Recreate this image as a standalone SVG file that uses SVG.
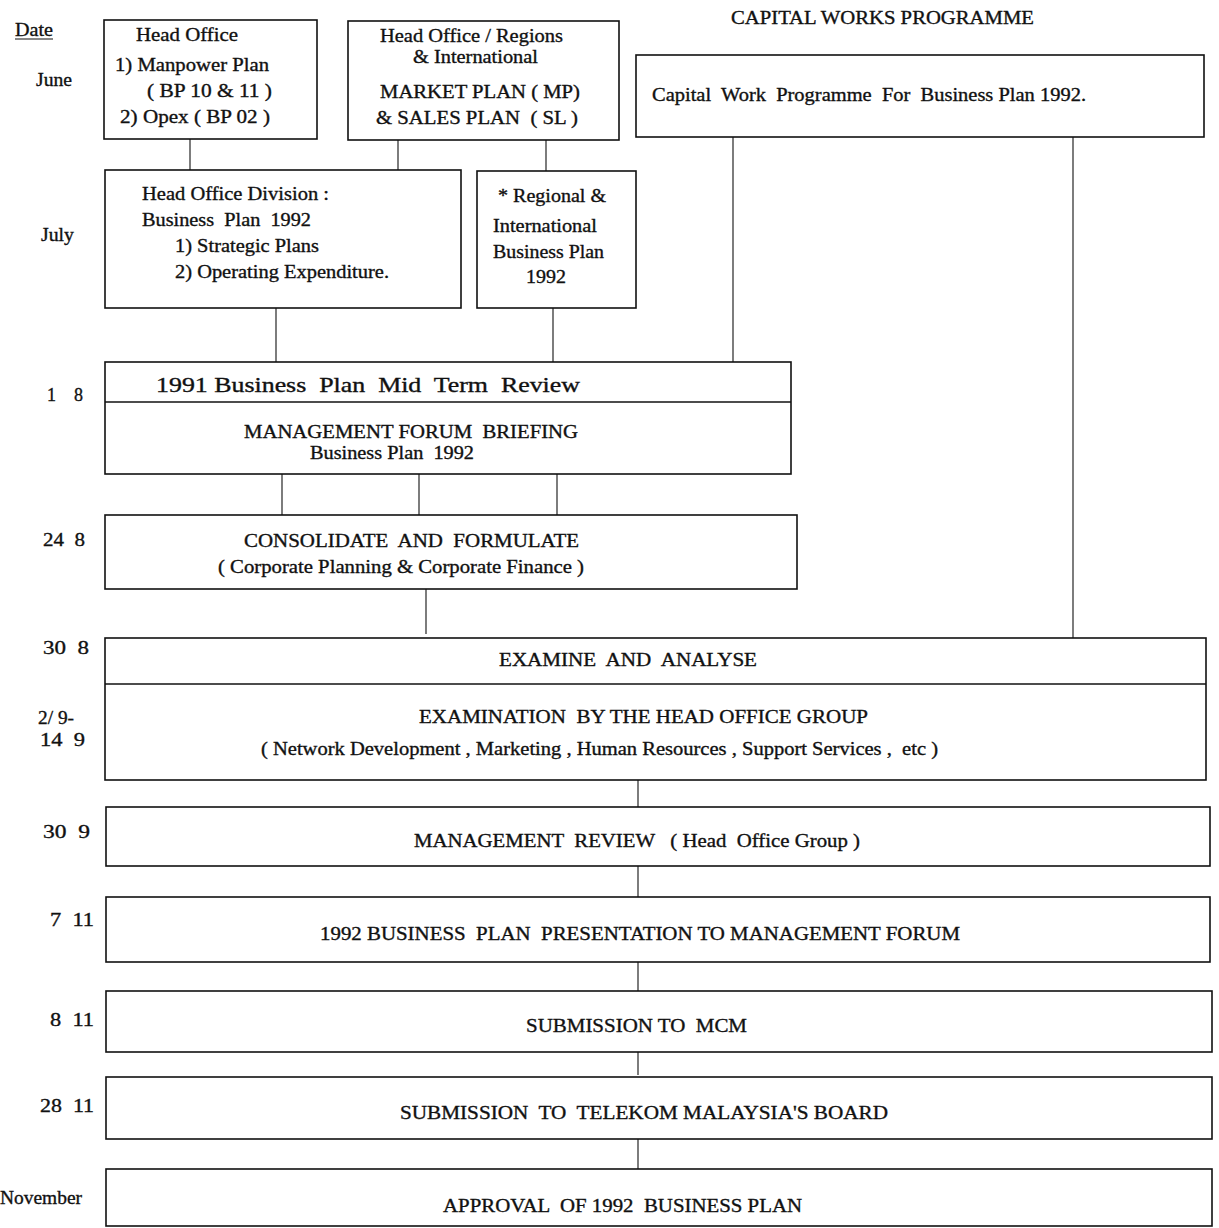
<svg xmlns="http://www.w3.org/2000/svg" width="1219" height="1228" viewBox="0 0 1219 1228">
<style>
.box{fill:#fff;stroke:#111;stroke-width:1.6}
.div{stroke:#111;stroke-width:1.6}
.con{stroke:#111;stroke-width:1.1;fill:none}
text{font-family:"Liberation Serif","Times New Roman",serif;font-size:19px;fill:#111;stroke:#111;stroke-width:0.35;white-space:pre}
</style>
<rect width="1219" height="1228" fill="#fff"/>
<g id="dates">
<text x="15" y="36" textLength="38" lengthAdjust="spacingAndGlyphs">Date</text>
<line x1="15" y1="39" x2="53" y2="39" stroke="#111" stroke-width="1.2"/>
<text x="36" y="86" textLength="36" lengthAdjust="spacingAndGlyphs">June</text>
<text x="41" y="241" textLength="33" lengthAdjust="spacingAndGlyphs">July</text>
<text x="47" y="401" textLength="36" lengthAdjust="spacingAndGlyphs">1    8</text>
<text x="43" y="546" textLength="42" lengthAdjust="spacingAndGlyphs">24  8</text>
<text x="43" y="654" textLength="46" lengthAdjust="spacingAndGlyphs">30  8</text>
<text x="38" y="724" textLength="36" lengthAdjust="spacingAndGlyphs">2/ 9-</text>
<text x="40" y="746" textLength="45" lengthAdjust="spacingAndGlyphs">14  9</text>
<text x="43" y="838" textLength="47" lengthAdjust="spacingAndGlyphs">30  9</text>
<text x="50" y="926" textLength="44" lengthAdjust="spacingAndGlyphs">7  11</text>
<text x="50" y="1026" textLength="44" lengthAdjust="spacingAndGlyphs">8  11</text>
<text x="40" y="1112" textLength="54" lengthAdjust="spacingAndGlyphs">28  11</text>
<text x="0" y="1204" textLength="82" lengthAdjust="spacingAndGlyphs">November</text>
</g>
<g id="connectors">
<line class="con" x1="190" y1="139" x2="190" y2="170"/>
<line class="con" x1="398" y1="140" x2="398" y2="170"/>
<line class="con" x1="546" y1="140" x2="546" y2="171"/>
<line class="con" x1="276" y1="308" x2="276" y2="362"/>
<line class="con" x1="553" y1="308" x2="553" y2="362"/>
<line class="con" x1="733" y1="137" x2="733" y2="362"/>
<line class="con" x1="1073" y1="137" x2="1073" y2="638"/>
<line class="con" x1="282" y1="474" x2="282" y2="515"/>
<line class="con" x1="419" y1="474" x2="419" y2="515"/>
<line class="con" x1="557" y1="474" x2="557" y2="515"/>
<line class="con" x1="426" y1="589" x2="426" y2="634"/>
<line class="con" x1="638" y1="780" x2="638" y2="807"/>
<line class="con" x1="638" y1="866" x2="638" y2="897"/>
<line class="con" x1="638" y1="962" x2="638" y2="991"/>
<line class="con" x1="638" y1="1052" x2="638" y2="1075"/>
<line class="con" x1="638" y1="1139" x2="638" y2="1169"/>
</g>
<g id="title">
<text x="731" y="24" textLength="303" lengthAdjust="spacingAndGlyphs">CAPITAL WORKS PROGRAMME</text>
</g>
<g id="head-office">
<rect class="box" x="104" y="20" width="213" height="119"/>
<text x="136" y="41" textLength="102" lengthAdjust="spacingAndGlyphs">Head Office</text>
<text x="115" y="71" textLength="154" lengthAdjust="spacingAndGlyphs">1) Manpower Plan</text>
<text x="147" y="97" textLength="125" lengthAdjust="spacingAndGlyphs">( BP 10 &amp; 11 )</text>
<text x="120" y="123" textLength="150" lengthAdjust="spacingAndGlyphs">2) Opex ( BP 02 )</text>
</g>
<g id="regions-market">
<rect class="box" x="348" y="21" width="271" height="119"/>
<text x="380" y="42" textLength="183" lengthAdjust="spacingAndGlyphs">Head Office / Regions</text>
<text x="413" y="63" textLength="125" lengthAdjust="spacingAndGlyphs">&amp; International</text>
<text x="380" y="98" textLength="200" lengthAdjust="spacingAndGlyphs">MARKET PLAN ( MP)</text>
<text x="376" y="124" textLength="202" lengthAdjust="spacingAndGlyphs">&amp; SALES PLAN  ( SL )</text>
</g>
<g id="capital-work">
<rect class="box" x="636" y="55" width="568" height="82"/>
<text x="652" y="101" textLength="434" lengthAdjust="spacingAndGlyphs">Capital  Work  Programme  For  Business Plan 1992.</text>
</g>
<g id="ho-division">
<rect class="box" x="105" y="170" width="356" height="138"/>
<text x="142" y="200" textLength="187" lengthAdjust="spacingAndGlyphs">Head Office Division :</text>
<text x="142" y="226" textLength="169" lengthAdjust="spacingAndGlyphs">Business  Plan  1992</text>
<text x="175" y="252" textLength="144" lengthAdjust="spacingAndGlyphs">1) Strategic Plans</text>
<text x="175" y="278" textLength="214" lengthAdjust="spacingAndGlyphs">2) Operating Expenditure.</text>
</g>
<g id="regional-plan">
<rect class="box" x="477" y="171" width="159" height="137"/>
<text x="498" y="202" textLength="108" lengthAdjust="spacingAndGlyphs">* Regional &amp;</text>
<text x="493" y="232" textLength="104" lengthAdjust="spacingAndGlyphs">International</text>
<text x="493" y="258" textLength="111" lengthAdjust="spacingAndGlyphs">Business Plan</text>
<text x="526" y="283" textLength="40" lengthAdjust="spacingAndGlyphs">1992</text>
</g>
<g id="mid-term-review">
<rect class="box" x="105" y="362" width="686" height="112"/>
<line class="div" x1="105" y1="402" x2="791" y2="402"/>
<text x="156" y="392" textLength="424" lengthAdjust="spacingAndGlyphs" style="font-size:21px">1991 Business  Plan  Mid  Term  Review</text>
<text x="244" y="438" textLength="334" lengthAdjust="spacingAndGlyphs">MANAGEMENT FORUM  BRIEFING</text>
<text x="310" y="459" textLength="164" lengthAdjust="spacingAndGlyphs">Business Plan  1992</text>
</g>
<g id="consolidate">
<rect class="box" x="105" y="515" width="692" height="74"/>
<text x="244" y="547" textLength="335" lengthAdjust="spacingAndGlyphs">CONSOLIDATE  AND  FORMULATE</text>
<text x="218" y="573" textLength="366" lengthAdjust="spacingAndGlyphs">( Corporate Planning &amp; Corporate Finance )</text>
</g>
<g id="examine">
<rect class="box" x="105" y="638" width="1101" height="142"/>
<line class="div" x1="105" y1="684" x2="1206" y2="684"/>
<text x="499" y="666" textLength="258" lengthAdjust="spacingAndGlyphs">EXAMINE  AND  ANALYSE</text>
<text x="419" y="723" textLength="449" lengthAdjust="spacingAndGlyphs">EXAMINATION  BY THE HEAD OFFICE GROUP</text>
<text x="261" y="755" textLength="677" lengthAdjust="spacingAndGlyphs">( Network Development , Marketing , Human Resources , Support Services ,  etc )</text>
</g>
<g id="management-review">
<rect class="box" x="106" y="807" width="1104" height="59"/>
<text x="414" y="847" textLength="446" lengthAdjust="spacingAndGlyphs">MANAGEMENT  REVIEW   ( Head  Office Group )</text>
</g>
<g id="presentation">
<rect class="box" x="106" y="897" width="1104" height="65"/>
<text x="320" y="940" textLength="640" lengthAdjust="spacingAndGlyphs">1992 BUSINESS  PLAN  PRESENTATION TO MANAGEMENT FORUM</text>
</g>
<g id="submission-mcm">
<rect class="box" x="106" y="991" width="1106" height="61"/>
<text x="526" y="1032" textLength="221" lengthAdjust="spacingAndGlyphs">SUBMISSION TO  MCM</text>
</g>
<g id="submission-board">
<rect class="box" x="106" y="1077" width="1106" height="62"/>
<text x="400" y="1119" textLength="488" lengthAdjust="spacingAndGlyphs">SUBMISSION  TO  TELEKOM MALAYSIA'S BOARD</text>
</g>
<g id="approval">
<rect class="box" x="106" y="1169" width="1106" height="57"/>
<text x="443" y="1212" textLength="359" lengthAdjust="spacingAndGlyphs">APPROVAL  OF 1992  BUSINESS PLAN</text>
</g>
</svg>
